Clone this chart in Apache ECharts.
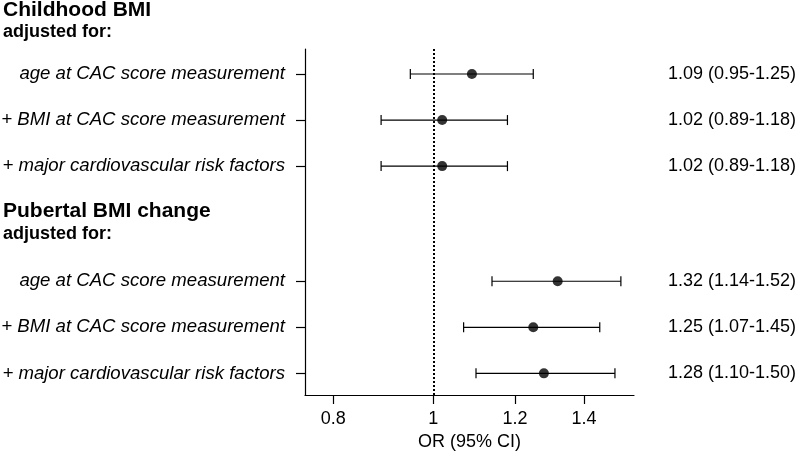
<!DOCTYPE html>
<html>
<head>
<meta charset="utf-8">
<script src="https://cdn.jsdelivr.net/npm/echarts@6/dist/echarts.min.js"></script>
<style>html,body{margin:0;padding:0;background:#fff}#c{width:800px;height:452px}</style>
</head>
<body>
<div id="c"></div>
<script>
// ---- data ----
var groups = ['Childhood BMI', 'Pubertal BMI change'];
var subHeader = 'adjusted for:';
var labels = [
  'age at CAC score measurement',
  '+ BMI at CAC score measurement',
  '+ major cardiovascular risk factors',
  'age at CAC score measurement',
  '+ BMI at CAC score measurement',
  '+ major cardiovascular risk factors'
];
var rowPos = [1, 2, 3, 5.5, 6.5, 7.5];
var orVals = [1.09, 1.02, 1.02, 1.32, 1.25, 1.28];
var ciLow  = [0.95, 0.89, 0.89, 1.14, 1.07, 1.10];
var ciHigh = [1.25, 1.18, 1.18, 1.52, 1.45, 1.50];
var xTicks = [0.8, 1, 1.2, 1.4];
var refValue = 1;
var xTitle = 'OR (95% CI)';

// ---- build ----
var FONT = '"Liberation Sans", Arial, Helvetica, sans-serif';
function fmt(v){ return v.toFixed(2); }
var ln = Math.log;
var pointData = orVals.map(function(v,i){ return [ln(v), rowPos[i]]; });
var barData = ciLow.map(function(v,i){ return [ln(v), ln(ciHigh[i]), rowPos[i]]; });
var rightText = orVals.map(function(v,i){ return fmt(v) + ' (' + fmt(ciLow[i]) + '-' + fmt(ciHigh[i]) + ')'; });
var tickLn = xTicks.map(function(t){ return ln(t); });

function idxOf(v){
  for (var i=0;i<rowPos.length;i++){ if (Math.abs(rowPos[i]-v) < 1e-6) return i; }
  return -1;
}

var chart = echarts.init(document.getElementById('c'), null, {renderer:'canvas'});
var option = {
  animation: false,
  backgroundColor: '#fff',
  textStyle: { fontFamily: FONT },
  grid: { left: 305, right: 166, top: 49, bottom: 57, containLabel: false, outerBoundsMode: 'none' },
  xAxis: {
    type: 'value',
    min: -0.2864, max: 0.448,
    name: xTitle,
    nameLocation: 'middle',
    nameGap: 38,
    nameTextStyle: { fontSize: 18, color: '#000', fontFamily: FONT },
    axisLine: { show: true, lineStyle: { color: '#000', width: 1.2 } },
    axisTick: { show: true, length: 9, customValues: tickLn, lineStyle: { color: '#000', width: 1.2 } },
    axisLabel: {
      customValues: tickLn, margin: 15, fontSize: 18, color: '#000', fontFamily: FONT,
      formatter: function(v){ var t = Math.exp(v); return String(Math.round(t*10)/10); }
    },
    splitLine: { show: false }
  },
  yAxis: [{
    type: 'value',
    inverse: true,
    min: 0.457, max: 7.97,
    axisLine: { show: true, onZero: false, lineStyle: { color: '#000', width: 1.2 } },
    axisTick: { show: true, length: 9, customValues: rowPos, lineStyle: { color: '#000', width: 1.2 } },
    axisLabel: {
      customValues: rowPos, margin: 20, fontSize: 18.6, fontStyle: 'italic', color: '#000', fontFamily: FONT,
      formatter: function(v){ var i = idxOf(v); return i >= 0 ? labels[i] : ''; }
    },
    splitLine: { show: false }
  }, {
    type: 'value',
    inverse: true,
    position: 'right',
    min: 0.457, max: 7.97,
    axisLine: { show: false },
    axisTick: { show: false },
    axisLabel: {
      customValues: rowPos, margin: 34, fontSize: 18, color: '#000', fontFamily: FONT, align: 'left',
      formatter: function(v){ var i = idxOf(v); return i >= 0 ? rightText[i] : ''; }
    },
    splitLine: { show: false }
  }],
  graphic: [
    { type: 'text', left: 3, top: 0, style: { text: groups[0], font: 'bold 21px ' + FONT, fill: '#000' } },
    { type: 'text', left: 3, top: 23, style: { text: subHeader, font: 'bold 18px ' + FONT, fill: '#000' } },
    { type: 'text', left: 3, top: 201, style: { text: groups[1], font: 'bold 21px ' + FONT, fill: '#000' } },
    { type: 'text', left: 3, top: 225, style: { text: subHeader, font: 'bold 18px ' + FONT, fill: '#000' } }
  ],
  series: [{
    type: 'custom',
    yAxisIndex: 0,
    silent: true,
    encode: { x: [0, 1], y: 2 },
    data: barData,
    renderItem: function(params, api){
      var y = api.value(2);
      var p1 = api.coord([api.value(0), y]);
      var p2 = api.coord([api.value(1), y]);
      var h = 5;
      var st = { stroke: '#000', lineWidth: 1.2 };
      return { type: 'group', children: [
        { type: 'line', shape: { x1: p1[0], y1: p1[1], x2: p2[0], y2: p2[1] }, style: st },
        { type: 'line', shape: { x1: p1[0], y1: p1[1]-h, x2: p1[0], y2: p1[1]+h }, style: st },
        { type: 'line', shape: { x1: p2[0], y1: p2[1]-h, x2: p2[0], y2: p2[1]+h }, style: st }
      ]};
    }
  }, {
    type: 'scatter',
    yAxisIndex: 0,
    silent: true,
    symbol: 'circle',
    symbolSize: 10,
    itemStyle: { color: '#000' },
    data: pointData,
    z: 5,
    markLine: {
      silent: true,
      symbol: 'none',
      label: { show: false },
      lineStyle: { color: '#000', type: [2, 2], width: 2 },
      data: [{ xAxis: ln(refValue) }]
    }
  }]
};
chart.setOption(option);
</script>
</body>
</html>
